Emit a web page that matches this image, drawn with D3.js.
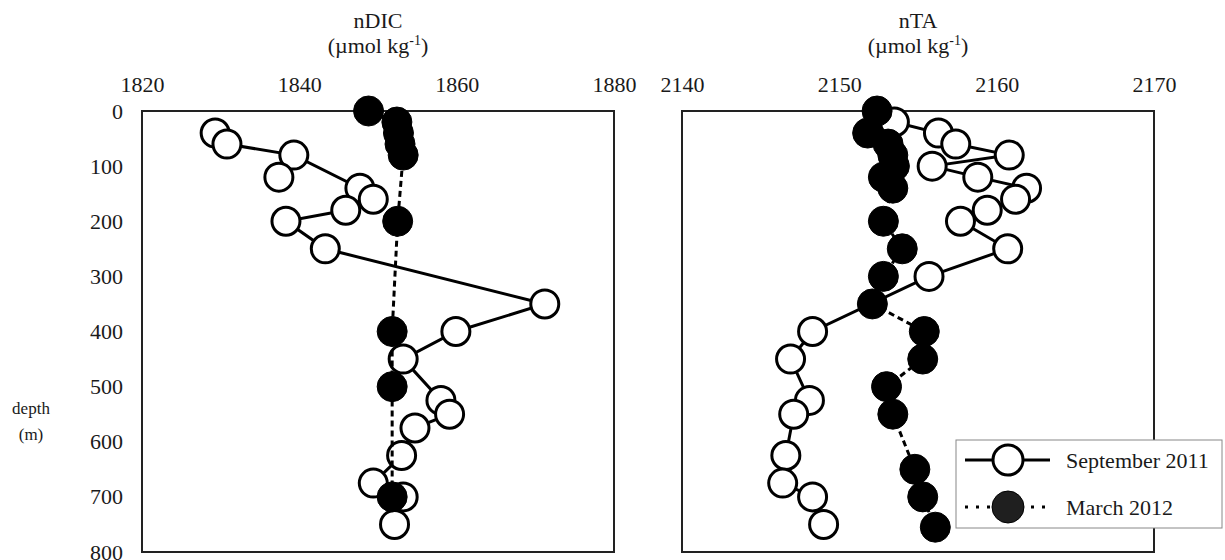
<!DOCTYPE html>
<html>
<head>
<meta charset="utf-8">
<script src="https://cdn.jsdelivr.net/npm/d3@7"></script>
<style>
  html, body { margin: 0; padding: 0; background: #fff; }
  svg { display: block; }
  text { font-family: "Liberation Serif", "Times New Roman", "DejaVu Serif", serif; fill: #1a1a1a; }
</style>
</head>
<body>
<svg id="chart" width="1225" height="560"></svg>
<script>
// ---------- data ----------
const depthTicks = [0, 100, 200, 300, 400, 500, 600, 700, 800];
const dicTicks = [1820, 1840, 1860, 1880];
const taTicks = [2140, 2150, 2160, 2170];

// nDIC, September 2011 (null = break in the line)
const dicSepDepth = [40, 60, 80, 140, 160, 180, 200, 250, 350, 400, 450, 525, 550, 575, 625, 675, 700, 750, null, 120];
const dicSepValue = [1829.3, 1830.8, 1839.3, 1847.7, 1849.4, 1845.9, 1838.3, 1843.3, 1871.2, 1859.9, 1853.2, 1858.0, 1859.1, 1854.7, 1853.0, 1849.4, 1853.2, 1852.1, null, 1837.4];
// nDIC, March 2012
const dicMarDepth = [0, 20, 40, 60, 80, 200, 400, 500, 700];
const dicMarValue = [1848.8, 1852.4, 1852.6, 1852.8, 1853.2, 1852.5, 1851.8, 1851.8, 1851.8];

// nTA, September 2011
const taSepDepth = [20, 40, 60, 80, 100, 120, 140, 160, 180, 200, 250, 300, 400, 450, 525, 550, 625, 675, 700, 750];
const taSepValue = [2153.5, 2156.3, 2157.4, 2160.8, 2155.9, 2158.8, 2161.9, 2161.2, 2159.4, 2157.7, 2160.7, 2155.7, 2148.3, 2146.9, 2148.1, 2147.1, 2146.6, 2146.4, 2148.3, 2149.0];
// nTA, March 2012
const taMarDepth = [0, 40, 60, 80, 100, 120, 140, 200, 250, 300, 350, 400, 450, 500, 550, 650, 700, 755];
const taMarValue = [2152.4, 2151.8, 2153.1, 2153.4, 2153.5, 2152.8, 2153.4, 2152.8, 2154.0, 2152.8, 2152.1, 2155.4, 2155.3, 2153.0, 2153.4, 2154.8, 2155.3, 2156.1];

const seriesNames = ["September 2011", "March 2012"];

// ---------- layout ----------
const svg = d3.select("#chart");
const plotTop = 111, plotBottom = 552;
const R = 14;

function zip(d, v) { return d.map((dd, i) => ({ depth: dd, value: v[i] })); }

function panel(opts) {
  const g = svg.append("g");
  const x = d3.scaleLinear().domain(opts.xDomain).range([opts.left, opts.right]);
  const y = d3.scaleLinear().domain([0, 800]).range([plotTop, plotBottom]);

  // frame
  g.append("rect")
    .attr("x", opts.left).attr("y", plotTop)
    .attr("width", opts.right - opts.left).attr("height", plotBottom - plotTop)
    .attr("fill", "none").attr("stroke", "#222").attr("stroke-width", 2);

  // x axis (top)
  const ax = g.append("g").attr("transform", `translate(0,${plotTop})`)
    .call(d3.axisTop(x).tickValues(opts.xTicks).tickSize(0).tickPadding(19).tickFormat(d3.format("d")));
  ax.select(".domain").remove();
  ax.selectAll("text").style("font-size", "22px").style("font-family", '"Liberation Serif", "Times New Roman", serif').attr("fill", "#1a1a1a");

  if (opts.yAxis) {
    const ay = g.append("g").attr("transform", `translate(${opts.left},0)`)
      .call(d3.axisLeft(y).tickValues(depthTicks).tickSize(0).tickPadding(19).tickFormat(d3.format("d")));
    ay.select(".domain").remove();
    ay.selectAll("text").style("font-size", "22px").style("font-family", '"Liberation Serif", "Times New Roman", serif').attr("fill", "#1a1a1a");
  }

  // title
  const cx = (opts.left + opts.right) / 2;
  g.append("text").attr("x", cx).attr("y", 28).attr("text-anchor", "middle")
    .style("font-size", "22px").text(opts.title);
  const t2 = g.append("text").attr("x", cx).attr("y", 53).attr("text-anchor", "middle")
    .style("font-size", "22px");
  t2.append("tspan").text("(µmol kg");
  t2.append("tspan").attr("dy", -8).style("font-size", "14px").text("-1");
  t2.append("tspan").attr("dy", 8).text(")");

  const line = d3.line()
    .defined(d => d.depth != null && d.value != null)
    .x(d => x(d.value)).y(d => y(d.depth));

  const sep = zip(opts.sepDepth, opts.sepValue);
  const mar = zip(opts.marDepth, opts.marValue);

  // September series
  g.append("path").datum(sep).attr("d", line)
    .attr("fill", "none").attr("stroke", "#000").attr("stroke-width", 3);
  g.selectAll(".sep").data(sep.filter(d => d.depth != null)).join("circle")
    .attr("class", "sep")
    .attr("cx", d => x(d.value)).attr("cy", d => y(d.depth)).attr("r", R)
    .attr("fill", "#fff").attr("stroke", "#000").attr("stroke-width", 3);

  // March series
  g.append("path").datum(mar).attr("d", line)
    .attr("fill", "none").attr("stroke", "#000").attr("stroke-width", 3)
    .attr("stroke-dasharray", "6,4");
  g.selectAll(".mar").data(mar).join("circle")
    .attr("class", "mar")
    .attr("cx", d => x(d.value)).attr("cy", d => y(d.depth)).attr("r", R + 1)
    .attr("fill", "#000").attr("stroke", "#000").attr("stroke-width", 1);
}

panel({ left: 142, right: 614, xDomain: [1820, 1880], xTicks: dicTicks, yAxis: true, title: "nDIC",
  sepDepth: dicSepDepth, sepValue: dicSepValue, marDepth: dicMarDepth, marValue: dicMarValue });
panel({ left: 682, right: 1154, xDomain: [2140, 2170], xTicks: taTicks, yAxis: false, title: "nTA",
  sepDepth: taSepDepth, sepValue: taSepValue, marDepth: taMarDepth, marValue: taMarValue });

// y-axis label
svg.append("text").attr("x", 31).attr("y", 414).attr("text-anchor", "middle").style("font-size", "17px").text("depth");
svg.append("text").attr("x", 31).attr("y", 440).attr("text-anchor", "middle").style("font-size", "17px").text("(m)");

// legend
const lg = svg.append("g");
lg.append("rect").attr("x", 956).attr("y", 440).attr("width", 266).attr("height", 88)
  .attr("fill", "#fff").attr("stroke", "#888").attr("stroke-width", 1);
const rows = [{ y: 460, dash: null, fill: "#fff", sw: 3 }, { y: 507, dash: "3,8", fill: "#1f1f1f", sw: 1 }];
rows.forEach((r, i) => {
  lg.append("line").attr("x1", 965).attr("x2", 1050).attr("y1", r.y).attr("y2", r.y)
    .attr("stroke", "#000").attr("stroke-width", 3).attr("stroke-dasharray", r.dash);
  lg.append("circle").attr("cx", 1008).attr("cy", r.y).attr("r", i === 0 ? 15 : 16)
    .attr("fill", r.fill).attr("stroke", "#000").attr("stroke-width", r.sw);
  lg.append("text").attr("x", 1066).attr("y", r.y + 8).style("font-size", "22px").attr("fill", "#222").text(seriesNames[i]);
});
</script>
</body>
</html>
